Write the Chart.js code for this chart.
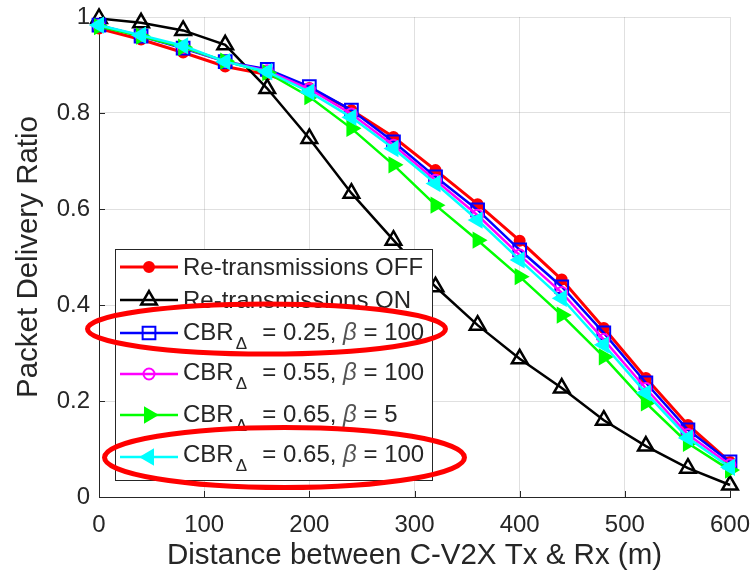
<!DOCTYPE html>
<html>
<head>
<meta charset="utf-8">
<script src="https://cdn.jsdelivr.net/npm/chart.js@4.4.1/dist/chart.umd.min.js"></script>
<style>
html,body{margin:0;padding:0;background:#ffffff;}
canvas{display:block;}
</style>
</head>
<body>
<canvas id="c" width="753" height="580" style="width:753px;height:580px"></canvas>
<script>
// ---------------- DATA ----------------
const distances = [0, 40, 80, 120, 160, 200, 240, 280, 320, 360, 400, 440, 480, 520, 560, 600];
const retxOff   = [0.976, 0.953, 0.926, 0.897, 0.880, 0.852, 0.806, 0.750, 0.681, 0.610, 0.534, 0.453, 0.352, 0.248, 0.150, 0.073];
const retxOn    = [0.997, 0.988, 0.972, 0.942, 0.851, 0.747, 0.633, 0.535, 0.438, 0.358, 0.288, 0.227, 0.160, 0.106, 0.060, 0.025];
const cbr025b100 = [0.983, 0.960, 0.935, 0.907, 0.891, 0.855, 0.806, 0.740, 0.667, 0.598, 0.515, 0.438, 0.342, 0.238, 0.140, 0.073];
const cbr055b100 = [0.982, 0.961, 0.937, 0.907, 0.888, 0.850, 0.798, 0.733, 0.660, 0.587, 0.504, 0.426, 0.328, 0.226, 0.130, 0.067];
const cbr065b5   = [0.980, 0.960, 0.937, 0.908, 0.884, 0.834, 0.768, 0.692, 0.608, 0.535, 0.459, 0.379, 0.292, 0.196, 0.112, 0.056];
const cbr065b100 = [0.983, 0.962, 0.940, 0.907, 0.886, 0.844, 0.791, 0.726, 0.653, 0.577, 0.494, 0.414, 0.317, 0.217, 0.123, 0.062];

const xTickValues = [0, 100, 200, 300, 400, 500, 600];
const yTickValues = [0, 0.2, 0.4, 0.6, 0.8, 1];
const xAxisTitle = 'Distance between C-V2X Tx & Rx (m)';
const yAxisTitle = 'Packet Delivery Ratio';

// legend text segments (s = subscript, i = italic)
const legendTexts = [
  [{t: 'Re-transmissions OFF'}],
  [{t: 'Re-transmissions ON'}],
  [{t: 'CBR'}, {t: '\u0394', s: true}, {t: '  = 0.25, '}, {t: '\u03b2', i: true}, {t: ' = 100'}],
  [{t: 'CBR'}, {t: '\u0394', s: true}, {t: '  = 0.55, '}, {t: '\u03b2', i: true}, {t: ' = 100'}],
  [{t: 'CBR'}, {t: '\u0394', s: true}, {t: '  = 0.65, '}, {t: '\u03b2', i: true}, {t: ' = 5'}],
  [{t: 'CBR'}, {t: '\u0394', s: true}, {t: '  = 0.65, '}, {t: '\u03b2', i: true}, {t: ' = 100'}]
];

// ---------------- STYLE / LAYOUT ----------------
const FONT = "'Liberation Sans', Arial, Helvetica, sans-serif";
const TXT = '#262626';
const GRID = 'rgba(38,38,38,0.14)';
const LEG = {
  x: 115, y: 249, w: 317, h: 231,
  lineX0: 120, lineX1: 178, textX: 183,
  lineY: [267, 300, 333, 374, 415, 457],
  baselines: [275, 308, 340, 380, 422, 462]
};
const ELLIPSES = [
  {cx: 266.5, cy: 329, rx: 179, ry: 25},
  {cx: 284.5, cy: 457.5, rx: 180, ry: 30}
];

function pts(arr) { return distances.map((d, i) => ({x: d, y: arr[i]})); }

const seriesDefs = [
  {data: retxOff,    color: '#ff0000', style: 'circle',   rot: 0,   r: 5, fill: '#ff0000', lw: 3, bw: 2},
  {data: retxOn,     color: '#000000', style: 'triangle', rot: 0,   r: 9, fill: 'rgba(0,0,0,0)', lw: 2.5, bw: 2.5},
  {data: cbr025b100, color: '#0000ff', style: 'rect',     rot: 0,   r: 9, fill: 'rgba(0,0,0,0)', lw: 2.5, bw: 2},
  {data: cbr055b100, color: '#ff00ff', style: 'circle',   rot: 0,   r: 5.5, fill: 'rgba(0,0,0,0)', lw: 2.5, bw: 2},
  {data: cbr065b5,   color: '#00ff00', style: 'triangle', rot: 90,  r: 8, fill: '#00ff00', lw: 2.5, bw: 2},
  {data: cbr065b100, color: '#00ffff', style: 'triangle', rot: -90, r: 8, fill: '#00ffff', lw: 2.5, bw: 2}
];

const datasets = seriesDefs.map((s, i) => ({
  label: 'series' + i,
  data: pts(s.data),
  borderColor: s.color,
  backgroundColor: s.color,
  borderWidth: s.lw,
  pointStyle: s.style,
  pointRotation: s.rot,
  pointRadius: s.r,
  pointHoverRadius: s.r,
  pointBackgroundColor: s.fill,
  pointBorderColor: s.color,
  pointBorderWidth: s.bw,
  tension: 0,
  fill: false,
  clip: false,
  order: seriesDefs.length - i
}));

const inwardTicks = {
  id: 'inwardTicks',
  beforeDatasetsDraw(chart) {
    const {ctx, chartArea: a, scales: {x, y}} = chart;
    ctx.save();
    ctx.strokeStyle = TXT; ctx.lineWidth = 1;
    ctx.beginPath();
    x.ticks.forEach(t => {
      const px = Math.round(x.getPixelForValue(t.value)) + 0.5;
      ctx.moveTo(px, a.bottom); ctx.lineTo(px, a.bottom - 6);
    });
    y.ticks.forEach(t => {
      const py = Math.round(y.getPixelForValue(t.value)) + 0.5;
      ctx.moveTo(a.left, py); ctx.lineTo(a.left + 6, py);
    });
    ctx.stroke();
    ctx.restore();
  }
};

const legendAndNotes = {
  id: 'legendAndNotes',
  afterDraw(chart) {
    const ctx = chart.ctx;
    ctx.save();
    ctx.fillStyle = '#ffffff';
    ctx.fillRect(LEG.x, LEG.y, LEG.w, LEG.h);
    ctx.strokeStyle = TXT; ctx.lineWidth = 1;
    ctx.strokeRect(LEG.x + 0.5, LEG.y + 0.5, LEG.w, LEG.h);
    chart.data.datasets.forEach((ds, i) => {
      const ly = LEG.lineY[i];
      ctx.strokeStyle = ds.borderColor; ctx.lineWidth = ds.borderWidth;
      ctx.beginPath(); ctx.moveTo(LEG.lineX0, ly); ctx.lineTo(LEG.lineX1, ly); ctx.stroke();
      ctx.fillStyle = ds.pointBackgroundColor;
      ctx.strokeStyle = ds.pointBorderColor;
      ctx.lineWidth = ds.pointBorderWidth;
      Chart.helpers.drawPoint(ctx, {
        pointStyle: ds.pointStyle, rotation: ds.pointRotation, radius: ds.pointRadius,
        borderWidth: ds.pointBorderWidth
      }, (LEG.lineX0 + LEG.lineX1) / 2, ly);
      let x = LEG.textX;
      const base = LEG.baselines[i];
      ctx.textBaseline = 'alphabetic';
      ctx.textAlign = 'left';
      legendTexts[i].forEach(seg => {
        let font = '24px ' + FONT, y = base, col = TXT;
        if (seg.s) { font = '17px ' + FONT; y = base + 9; x += 2; }
        if (seg.i) { font = 'italic 24px ' + FONT; col = '#555555'; }
        ctx.font = font; ctx.fillStyle = col;
        ctx.fillText(seg.t, x, y);
        x += ctx.measureText(seg.t).width + (seg.s ? 2 : 0);
      });
    });
    // red annotation ellipses
    ctx.strokeStyle = '#ff0000'; ctx.lineWidth = 5;
    ELLIPSES.forEach(e => {
      ctx.beginPath();
      ctx.ellipse(e.cx, e.cy, e.rx, e.ry, 0, 0, Math.PI * 2);
      ctx.stroke();
    });
    ctx.restore();
  }
};

new Chart(document.getElementById('c'), {
  type: 'line',
  data: {datasets},
  options: {
    responsive: false,
    devicePixelRatio: 1,
    animation: false,
    layout: {padding: {left: 0, right: 23, top: 17, bottom: 0}},
    plugins: {legend: {display: false}, tooltip: {enabled: false}},
    scales: {
      x: {
        type: 'linear', min: 0, max: 600,
        afterBuildTicks(s) { s.ticks = xTickValues.map(v => ({value: v})); },
        afterFit(s) { s.height = 83; s.paddingLeft = 0; s.paddingRight = 0; },
        ticks: {font: {size: 24, family: FONT}, color: TXT, padding: 14, maxRotation: 0, autoSkip: false,
                callback: v => String(v)},
        grid: {color: GRID, drawTicks: false, lineWidth: 1},
        border: {display: true, color: TXT, width: 1},
        title: {display: true, text: xAxisTitle, color: TXT, font: {size: 29.5, family: FONT},
                padding: {top: 0, bottom: 6}}
      },
      y: {
        type: 'linear', min: 0, max: 1,
        afterBuildTicks(s) { s.ticks = yTickValues.map(v => ({value: v})); },
        afterFit(s) { s.width = 99; s.paddingTop = 0; s.paddingBottom = 0; },
        ticks: {font: {size: 24, family: FONT}, color: TXT, padding: 9, autoSkip: false,
                callback: v => (v === 0 ? '0' : v === 1 ? '1' : (+v).toFixed(1))},
        grid: {color: GRID, drawTicks: false, lineWidth: 1},
        border: {display: true, color: TXT, width: 1},
        title: {display: true, text: yAxisTitle, color: TXT, font: {size: 29.5, family: FONT},
                padding: {top: 11, bottom: 0}}
      }
    }
  },
  plugins: [inwardTicks, legendAndNotes]
});
</script>
</body>
</html>
